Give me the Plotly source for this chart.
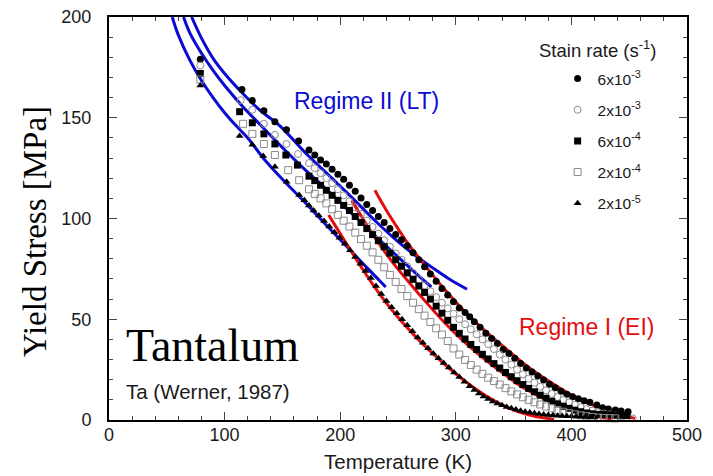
import plotly.graph_objects as go

# ---------------- data ----------------
T_6e3 = [79, 115, 124, 134, 143.5, 153.5, 164, 173, 178, 183, 188, 193, 198, 203, 208, 213, 218, 223, 228, 233,
         238, 243, 248, 253, 258, 263, 268, 273, 278, 283, 288, 293, 298, 303, 308, 312, 316, 321, 326, 331,
         336, 341, 346, 351, 356, 361, 366, 371, 376, 381, 386, 391, 396, 401, 406, 411, 416, 422, 427, 432,
         438, 443, 449]
S_6e3 = [179, 164, 158.5, 153.5, 148, 144, 138.5, 134, 131.5, 129, 127, 124.5, 122, 119.5, 116.5, 113.5, 110.2, 107, 104, 101,
         98, 95, 92, 89.5, 86.5, 83, 79.5, 76, 72.5, 68.8, 65.3, 62, 58.7, 55.6, 53.4, 51.3, 48.8, 46, 43, 40.5,
         38, 35, 33, 30.6, 28.1, 25.8, 23.8, 21.8, 19.8, 17.8, 16, 14.3, 12.8, 11.5, 10.5, 9.6, 8.8, 7.4, 6.1, 5.5,
         5, 4.5, 4.1]

T_2e3 = [79, 114, 124, 134, 143.5, 153.5, 163.5, 173, 178, 183, 188, 193, 198, 203, 208, 213, 218, 223, 228, 233,
         238, 243, 248, 253, 258, 263, 268, 273, 278, 283, 288, 293, 298, 303, 308, 313, 318, 323, 328, 333,
         338, 343, 348, 353, 358, 363, 368, 373, 378, 383, 388, 393, 398, 403, 408, 413, 418, 423, 428, 433,
         438, 443, 448, 453]
S_2e3 = [176, 158.7, 154, 147, 141.5, 137, 132, 127.5, 125, 122.5, 120, 117.5, 114.5, 111.5, 108.5, 105.5, 102.3, 99, 95.8, 92.5,
         89.2, 86, 82.7, 79.5, 76.2, 73, 69.8, 66.8, 63.9, 61, 58.2, 55.4, 52.7, 50, 47.5, 45, 42.5, 40, 37.6, 35.2,
         32.5, 30, 27.5, 25, 22.7, 20.5, 18.5, 16.5, 14.7, 13, 11.4, 10, 8.7, 7.5, 6.4, 5.4, 4.6, 3.9, 3.3, 2.8,
         2.3, 1.8, 1.3, 0.8]

T_6e4 = [79, 113, 124, 134, 143.5, 153, 163, 173, 178, 183, 188, 193, 198, 203, 208, 213, 218, 223, 228, 233,
         238, 243, 248, 253, 258, 263, 268, 273, 278, 283, 288, 293, 298, 303, 308, 313, 318, 323, 328, 333,
         338, 343, 348, 353, 358, 363, 368, 373, 378, 383, 388, 393, 398, 403, 408, 413, 418, 423, 428, 433,
         438, 443, 448]
S_6e4 = [172, 153, 147.5, 142, 137, 131.5, 126.5, 121, 118.8, 116.5, 114, 111.5, 109, 106.5, 104, 101, 98, 95, 92, 89,
         86, 82.8, 79.5, 76.3, 73, 69.8, 66.5, 63.3, 60, 56.5, 53, 49.5, 46, 43, 40.2, 37.5, 35, 32.6, 30.3, 28,
         25.8, 23.6, 21.5, 19.5, 17.6, 15.7, 14, 12.3, 10.8, 9.3, 8, 6.8, 5.8, 4.9, 4.1, 3.5, 3.1, 2.8, 2.7, 2.5,
         2.4, 2.3, 2.2]

T_2e4 = [79, 116, 124, 134, 143.5, 155, 164.5, 173, 178, 183, 188, 193, 198, 203, 208, 213, 218, 223, 228, 233,
         238, 243, 248, 253, 258, 263, 268, 273, 278, 283, 288, 293, 298, 303, 308, 313, 318, 323, 328, 333,
         338, 343, 348, 353, 358, 363, 368, 373, 378, 383, 388, 393, 398, 403, 408, 413, 418, 423, 428, 433,
         438]
S_2e4 = [169, 147, 142, 137, 131.5, 124, 119, 114.5, 112.2, 110, 107.5, 104.6, 101.8, 98.9, 96, 93, 89.8, 86.5, 83.2, 79.5,
         75.8, 72, 68.5, 65, 61.5, 58.2, 55, 51.8, 48.6, 45.5, 42.4, 39.2, 35.5, 32.5, 29.8, 27.3, 25, 22.9, 21, 19.3,
         17.6, 15.8, 14.2, 12.7, 11.3, 10, 8.8, 7.7, 6.7, 5.8, 4.9, 4.1, 3.4, 2.8, 2.3, 1.9, 1.5, 1.2, 1, 0.9,
         0.8]

T_2e5 = [79, 113, 124, 133.4, 143.5, 153.6, 164.5, 169, 173, 177, 181.5, 186, 190.5, 195, 199.5, 204, 208.5, 213, 217.5, 222,
         226.5, 231, 235.5, 240, 244.5, 249, 253.5, 258, 262.5, 267, 271.5, 276, 280.5, 285, 289.5, 294, 298.5, 303, 307.5, 312,
         316, 320, 324, 328, 332, 336, 340, 344, 348, 352, 356, 360, 364, 368, 372, 376, 380, 384, 388, 392,
         396, 400, 404, 408, 412, 416, 420]
S_2e5 = [166, 141, 136.6, 131, 125.7, 118.3, 111.7, 109, 106.5, 104, 101.5, 98.8, 96, 93.2, 90.4, 87.5, 84.3, 80.9, 77.5, 74,
         70.5, 66.5, 62.5, 59, 56, 53, 50, 47, 44, 41, 38.3, 35.6, 33, 30.6, 28.3, 26, 23.6, 21.3, 19, 16.8,
         14.9, 13.2, 11.7, 10.4, 9.2, 8.2, 7.3, 6.5, 5.8, 5.2, 4.6, 4.1, 3.7, 3.3, 3, 2.7, 2.5, 2.3, 2.1, 2,
         1.9, 1.8, 1.7, 1.6, 1.5, 1.4, 1.3]

# Regime II (LT) fits (blue)
T_blue_hi = [71.5, 80, 90, 100, 115, 130, 147.8, 170, 190, 210, 230, 250, 263, 280, 295, 309.7]
S_blue_hi = [200, 189.5, 179.5, 172, 162.5, 154, 146, 132.5, 121.5, 110.5, 99, 88.5, 82.5, 75.5, 69.7, 64.9]
T_blue_mid = [64.5, 70, 80, 90, 100, 115, 130, 147.8, 170, 190, 210, 230, 250, 265, 278.9]
S_blue_mid = [200, 192, 182, 173.5, 166, 156, 147, 136.5, 124, 113.5, 102.5, 91.5, 81, 73, 66]
T_blue_lo = [54.7, 60, 70, 80, 90, 100, 110, 120, 134.8, 150, 172, 190, 210, 225, 239.4]
S_blue_lo = [200, 191, 178.5, 168.5, 160, 152.5, 146, 140, 129, 119.5, 106.5, 95.5, 83.5, 74.5, 66]

# Regime I (EI) fits (red)
T_red_hi = [230, 240, 250, 260, 275, 290, 305, 320, 340, 360, 380, 400, 420, 440, 455]
S_red_hi = [114, 104, 95, 86.5, 75.5, 65, 55.5, 47, 37, 27.5, 19.5, 12.5, 7, 3, 0.8]
T_red_mid = [210, 220, 230, 245, 260, 275, 290, 305, 320, 340, 360, 380, 400, 420, 435]
S_red_mid = [109, 99.5, 90.5, 78.5, 68, 58, 48.5, 40, 32.5, 23.5, 15.5, 9.5, 5, 2, 0.5]
T_red_lo = [190, 200, 210, 220, 230, 240, 250, 265, 280, 295, 310, 325, 340, 355, 370, 385]
S_red_lo = [101.7, 92.5, 83.3, 74.3, 65.8, 58, 51, 41.5, 33, 25.3, 18.4, 12.4, 7.5, 3.9, 1.6, 0.4]

series_names = ["6x10<sup>-3</sup>", "2x10<sup>-3</sup>", "6x10<sup>-4</sup>", "2x10<sup>-4</sup>", "2x10<sup>-5</sup>"]

x_ticks = [0, 100, 200, 300, 400, 500]
y_ticks = [0, 50, 100, 150, 200]

# ---------------- figure ----------------
SANS = "Liberation Sans"
SERIF = "Liberation Serif"
GRAY = "#8c8c8c"
BLUE = "#0a0ad2"
RED = "#e40d0d"
INK = "#1a1a1a"

L, R, T, B = 109, 25.5, 17, 56
W, H = 713, 476
PW, PH = W - L - R, H - T - B


def px(xp):
    return (xp - L) / PW


def py(yp):
    return (H - B - yp) / PH


fig = go.Figure()

# fit lines first (under markers)
for tx, sy in [(T_blue_hi, S_blue_hi), (T_blue_mid, S_blue_mid), (T_blue_lo, S_blue_lo)]:
    fig.add_trace(go.Scatter(x=tx, y=sy, mode="lines", line=dict(color=BLUE, width=3, shape="spline"),
                             showlegend=False, hoverinfo="skip"))
for tx, sy in [(T_red_hi, S_red_hi), (T_red_mid, S_red_mid), (T_red_lo, S_red_lo)]:
    fig.add_trace(go.Scatter(x=tx, y=sy, mode="lines", line=dict(color=RED, width=3, shape="spline"),
                             showlegend=False, hoverinfo="skip"))

styles = [
    dict(symbol="circle", color="black", size=7, line=dict(width=0)),
    dict(symbol="circle-open", color=GRAY, size=7, line=dict(width=1, color=GRAY)),
    dict(symbol="square", color="black", size=7, line=dict(width=0)),
    dict(symbol="square-open", color=GRAY, size=7, line=dict(width=1, color=GRAY)),
    dict(symbol="triangle-up", color="black", size=7, line=dict(width=0)),
]
data = [(T_6e3, S_6e3), (T_2e3, S_2e3), (T_6e4, S_6e4), (T_2e4, S_2e4), (T_2e5, S_2e5)]
for i, ((tx, sy), name, st) in enumerate(zip(data, series_names, styles)):
    fig.add_trace(go.Scatter(x=tx, y=sy, mode="markers", name=name, marker=st,
                             legendgroup=f"g{i}", cliponaxis=False))

axis_common = dict(showline=True, linecolor="black", linewidth=2, mirror="ticks",
                   ticks="inside", ticklen=8, tickwidth=1, tickcolor="#444",
                   showgrid=False, zeroline=False, automargin=False,
                   tickfont=dict(family=SANS, size=18, color=INK))

fig.update_xaxes(range=[0, 500], tickvals=x_ticks, ticktext=[str(v) for v in x_ticks],
                 ticklabelstandoff=-3,
                 minor=dict(ticks="inside", ticklen=4, dtick=20, tickcolor="#444", showgrid=False),
                 **axis_common)
fig.update_yaxes(range=[0, 200], tickvals=y_ticks, ticktext=[str(v) for v in y_ticks],
                 ticklabelstandoff=12,
                 minor=dict(ticks="inside", ticklen=4, dtick=10, tickcolor="#444", showgrid=False),
                 **axis_common)

annotations = [
    dict(x=223, y=158.3, xref="x", yref="y", text="Regime II (LT)", showarrow=False,
         xanchor="center", yanchor="middle", font=dict(family=SANS, size=23, color=BLUE)),
    dict(x=413, y=46.2, xref="x", yref="y", text="Regime I (EI)", showarrow=False,
         xanchor="center", yanchor="middle", font=dict(family=SANS, size=23, color=RED)),
    dict(x=13, y=37, xref="x", yref="y", text="Tantalum", showarrow=False, xanchor="left", yanchor="middle",
         font=dict(family=SERIF, size=46, color="black")),
    dict(x=13, y=14, xref="x", yref="y", text="Ta (Werner, 1987)", showarrow=False, xanchor="left",
         yanchor="middle", font=dict(family=SANS, size=20.5, color=INK)),
    dict(x=px(537), y=py(49), xref="paper", yref="paper",
         text="Stain rate (s<sup>-1</sup>)", showarrow=False,
         xanchor="left", yanchor="middle", font=dict(family=SANS, size=18.5, color=INK)),
    dict(x=px(35), y=py(232), xref="paper", yref="paper", text="Yield Stress [MPa]",
         showarrow=False, xanchor="center", yanchor="middle",
         textangle=-90, font=dict(family=SERIF, size=33, color="black")),
    dict(x=px(398), y=py(461), xref="paper", yref="paper", text="Temperature (K)",
         showarrow=False, xanchor="center", yanchor="middle",
         font=dict(family=SANS, size=20.5, color=INK)),
]

fig.update_layout(
    width=W, height=H,
    margin=dict(l=L, r=R, t=T, b=B),
    paper_bgcolor="white", plot_bgcolor="white",
    annotations=annotations,
    legend=dict(x=px(558), y=py(62), xanchor="left", yanchor="top",
                bgcolor="rgba(0,0,0,0)",
                font=dict(family=SANS, size=15.5, color=INK), tracegroupgap=8),
    showlegend=True,
)

fig.write_html("out.html")
